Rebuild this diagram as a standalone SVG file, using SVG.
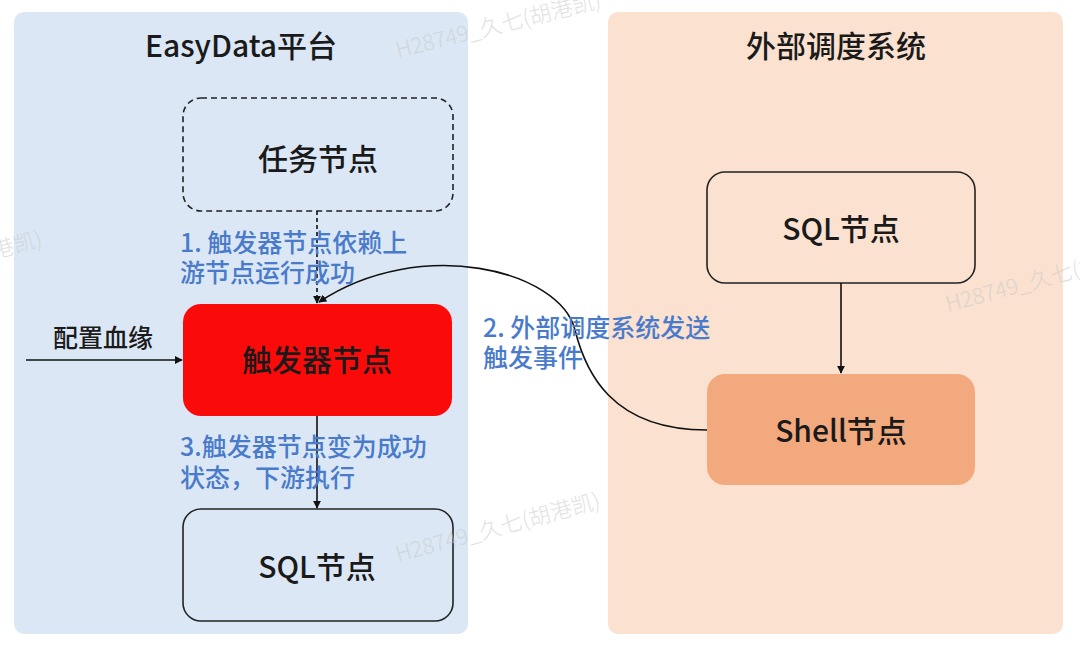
<svg xmlns="http://www.w3.org/2000/svg" width="1080" height="650" viewBox="0 0 1080 650">
<defs>
<marker id="arr" viewBox="0 0 10 10" refX="9" refY="5" markerWidth="8" markerHeight="8" markerUnits="userSpaceOnUse" orient="auto">
<path d="M0,0 L10,5 L0,10 z" fill="#111"/>
</marker>
<style>
.t{font-family:"Noto Sans CJK SC","Noto Sans",sans-serif;fill:#1a1a1a;text-anchor:middle;dominant-baseline:central;font-weight:500}
.big{font-size:30px}
.lbl{font-family:"Noto Sans CJK SC","Noto Sans",sans-serif;fill:#4a7bcb;font-size:25px;font-weight:500}
.wm{font-family:"Noto Sans CJK SC","Noto Sans",sans-serif;fill:#c9c9c9;font-size:22px;font-weight:300;opacity:0.55}
.edge{fill:none;stroke:#111;stroke-width:1.6}
</style>
</defs>
<rect width="1080" height="650" fill="#ffffff"/>
<g id="panel-easydata">
<rect x="14" y="12" width="454" height="622" rx="10" fill="#dbe7f4"/>
<text class="t big" x="241" y="44">EasyData平台</text>
</g>
<g id="panel-external">
<rect x="608" y="12" width="455" height="622" rx="10" fill="#fae1d0"/>
<text class="t big" x="836" y="44">外部调度系统</text>
</g>
<g id="node-task">
<rect x="183" y="98" width="270" height="113" rx="18" fill="none" stroke="#222" stroke-width="1.6" stroke-dasharray="6,4"/>
<text class="t big" x="318" y="157">任务节点</text>
</g>
<g id="node-trigger">
<rect x="183" y="304" width="269" height="112" rx="18" fill="#fb0a0a"/>
<text class="t big" x="317" y="358" font-weight="bold">触发器节点</text>
</g>
<g id="node-sql-left">
<rect x="183" y="509" width="270" height="112" rx="18" fill="#dbe7f4" stroke="#222" stroke-width="1.6"/>
<text class="t big" x="317" y="565">SQL节点</text>
</g>
<g id="node-sql-right">
<rect x="707" y="172" width="268" height="111" rx="18" fill="#fae1d0" stroke="#222" stroke-width="1.6"/>
<text class="t big" x="841" y="227">SQL节点</text>
</g>
<g id="node-shell">
<rect x="707" y="374" width="268" height="111" rx="18" fill="#f3a97e"/>
<text class="t big" x="841" y="429">Shell节点</text>
</g>
<g id="connectors">
<line class="edge" x1="317" y1="211" x2="317" y2="303" stroke-dasharray="4,3" marker-end="url(#arr)"/>
<line class="edge" x1="26" y1="360" x2="182" y2="360" marker-end="url(#arr)"/>
<line class="edge" x1="317" y1="416" x2="317" y2="508" marker-end="url(#arr)"/>
<line class="edge" x1="841" y1="283" x2="841" y2="373" marker-end="url(#arr)"/>
<path class="edge" d="M707,430 C610,430 585,370 575,330 C560,270 420,235 319,302" marker-end="url(#arr)"/>
</g>
<g id="labels">
<text class="lbl" x="180" y="252">1. 触发器节点依赖上</text>
<text class="lbl" x="180" y="282">游节点运行成功</text>
<text class="lbl" x="483" y="337">2. 外部调度系统发送</text>
<text class="lbl" x="483" y="367">触发事件</text>
<text class="lbl" x="180" y="456">3.触发器节点变为成功</text>
<text class="lbl" x="180" y="487">状态，下游执行</text>
<text class="t" x="103" y="336" font-size="25">配置血缘</text>
</g>
<g id="watermarks">
<text class="wm" x="398" y="58" transform="rotate(-14 398 58)">H28749_久七(胡港凯)</text>
<text class="wm" x="398" y="562" transform="rotate(-15 398 562)">H28749_久七(胡港凯)</text>
<text class="wm" x="948" y="312" transform="rotate(-15 948 312)">H28749_久七(胡港凯)</text>
<text class="wm" x="-160" y="300" transform="rotate(-15 -160 300)">H28749_久七(胡港凯)</text>
</g>
</svg>
